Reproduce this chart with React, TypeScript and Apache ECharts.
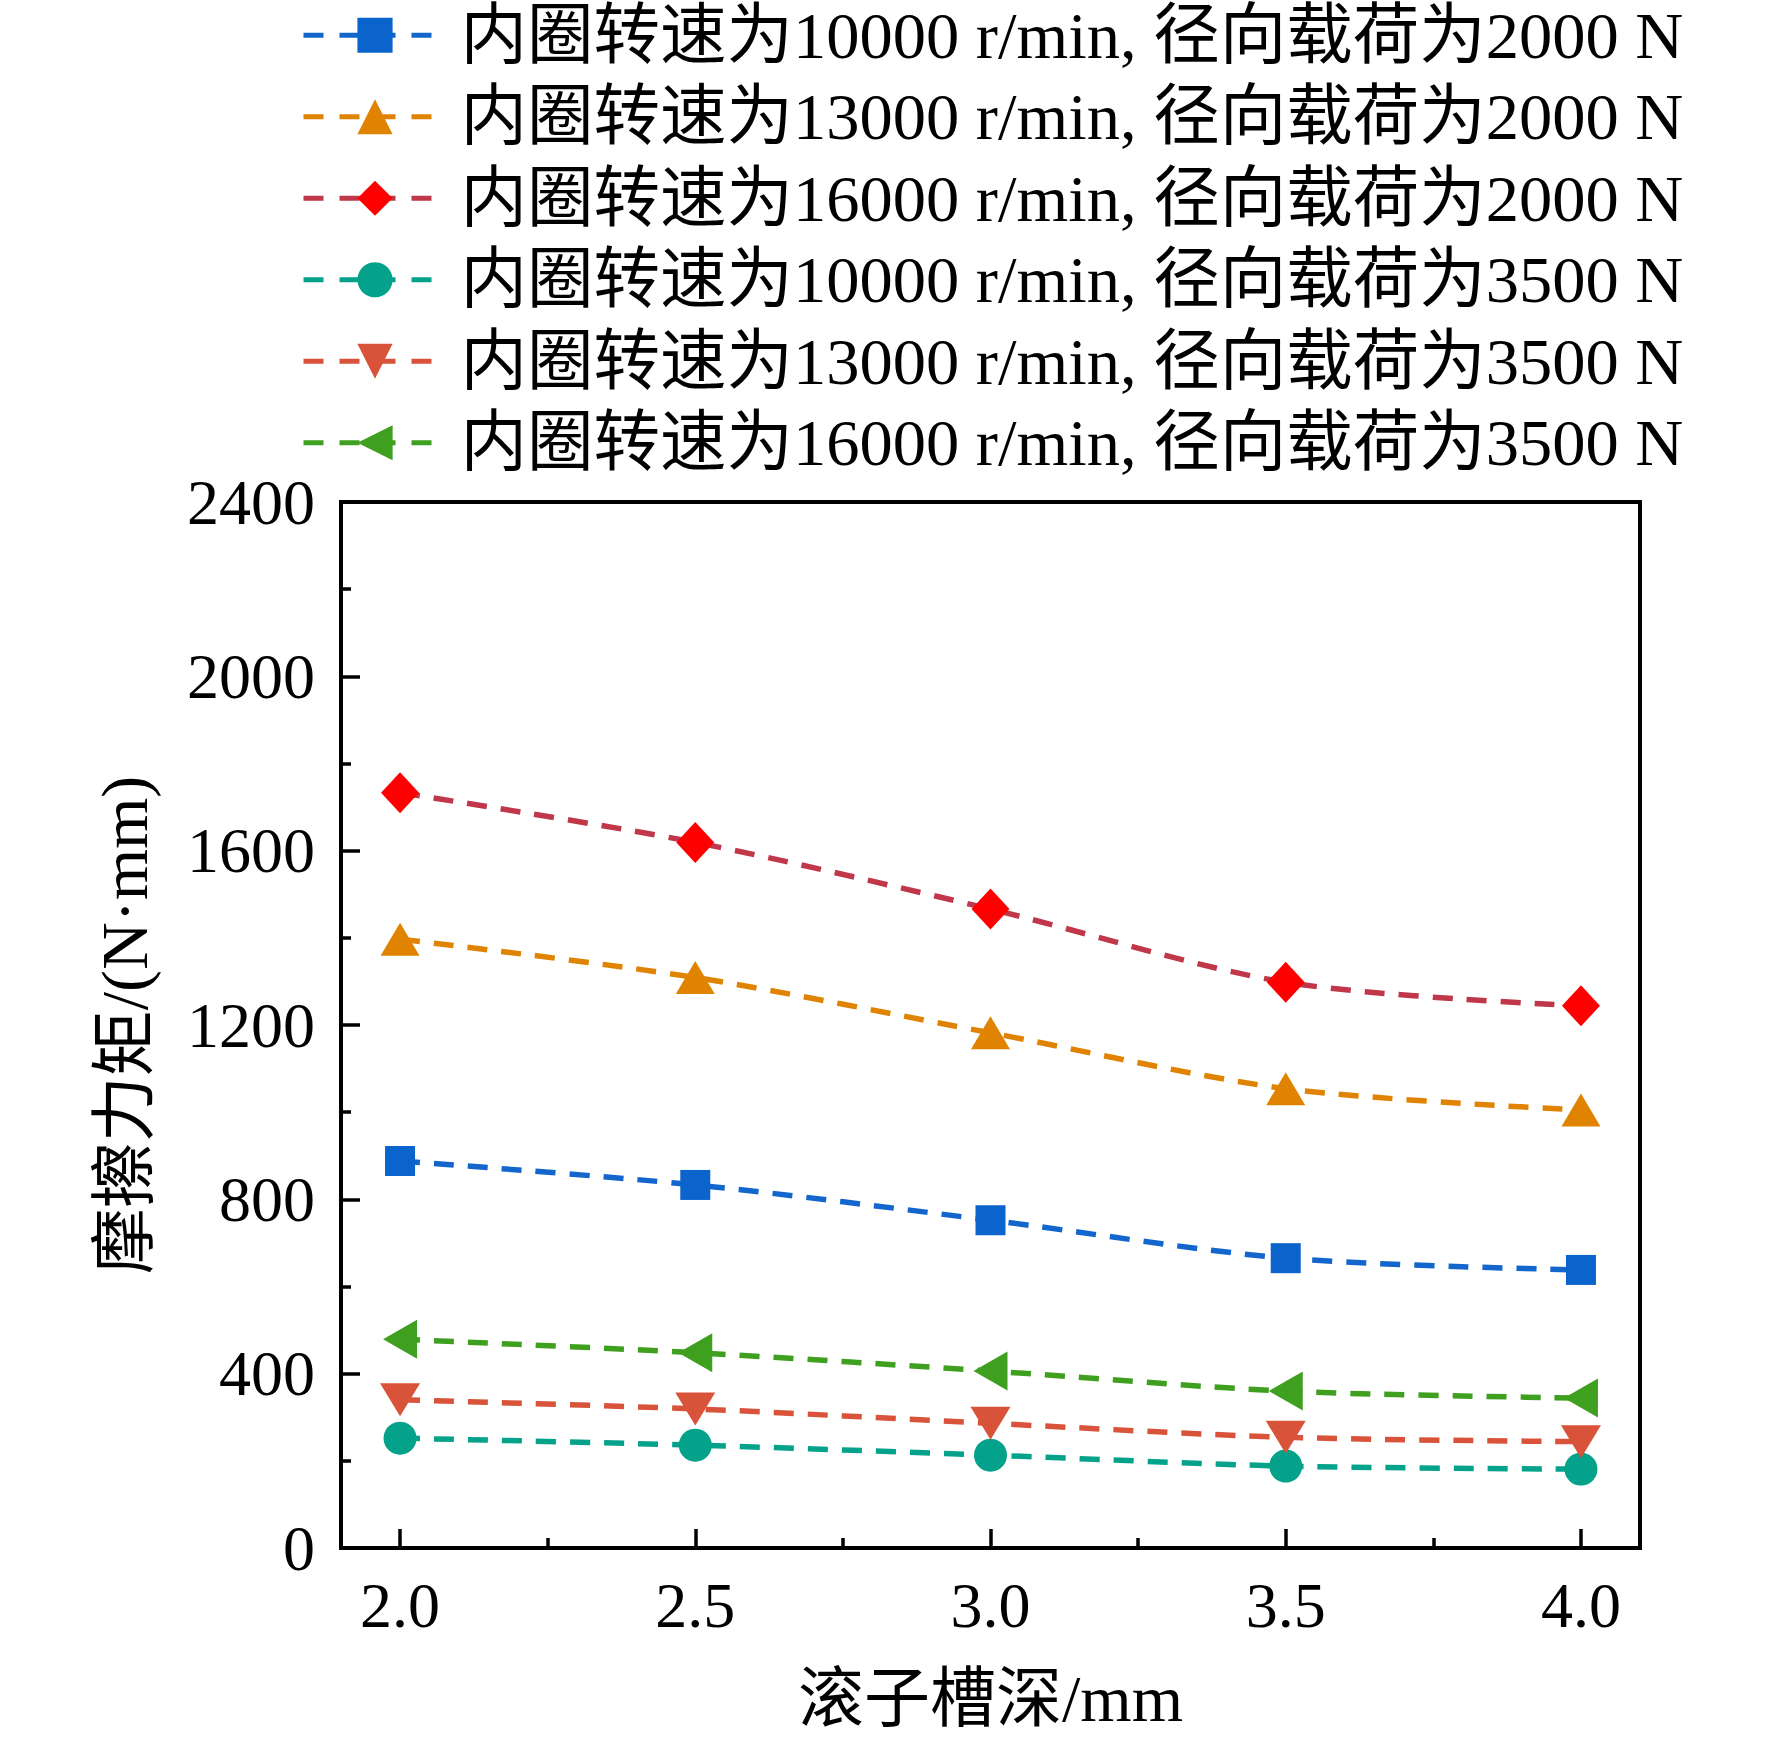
import React, { useEffect, useRef } from "react";
import * as echarts from "echarts";

const depths = [2.0, 2.5, 3.0, 3.5, 4.0];
const minorDepths = [2.25, 2.75, 3.25, 3.75];

const names = [
  "内圈转速为10000 r/min, 径向载荷为2000 N",
  "内圈转速为13000 r/min, 径向载荷为2000 N",
  "内圈转速为16000 r/min, 径向载荷为2000 N",
  "内圈转速为10000 r/min, 径向载荷为3500 N",
  "内圈转速为13000 r/min, 径向载荷为3500 N",
  "内圈转速为16000 r/min, 径向载荷为3500 N",
];

const s10k2000 = [888, 833, 752, 665, 638];
const s13k2000 = [1397, 1309, 1182, 1054, 1005];
const s16k2000 = [1733, 1619, 1466, 1298, 1244];
const s10k3500 = [252, 236, 213, 188, 181];
const s13k3500 = [340, 319, 286, 254, 244];
const s16k3500 = [479, 448, 406, 360, 344];

const FONT = "'Liberation Serif', 'Times New Roman', 'Noto Sans CJK SC', serif";

function pairs(vals: number[]) {
  return depths.map((d, i) => [d, vals[i]]);
}

export default function App() {
  const ref = useRef<HTMLDivElement>(null);
  useEffect(() => {
    if (!ref.current) return;
    const chart = echarts.init(ref.current, undefined, { renderer: "svg" });
    const dash = [20, 14];
    const mk = (
      name: string,
      vals: number[],
      symbol: string,
      size: number | number[],
      lineColor: string,
      markColor: string,
      rotate = 0
    ) => ({
      name,
      type: "line",
      data: pairs(vals),
      smooth: 0.3,
      symbol,
      symbolSize: size,
      symbolRotate: rotate,
      showSymbol: true,
      lineStyle: { color: lineColor, width: 5.5, type: dash },
      itemStyle: { color: markColor },
      emphasis: { disabled: true },
    });
    chart.setOption({
      animation: false,
      backgroundColor: "#ffffff",
      textStyle: { fontFamily: FONT },
      legend: {
        orient: "vertical",
        left: 301,
        top: 2,
        padding: 0,
        itemWidth: 143,
        itemHeight: 44,
        itemGap: 15,
        selectedMode: false,
        lineStyle: { width: 5, type: [20, 16] },
        textStyle: {
          fontFamily: FONT,
          fontSize: 66.5,
          color: "#000",
          lineHeight: 60,
          padding: [0, 0, 0, 9],
        },
        data: names,
      },
      grid: {
        left: 341,
        right: 132,
        top: 502,
        bottom: 194,
        show: true,
        borderColor: "#000",
        borderWidth: 4,
        containLabel: false,
      },
      xAxis: [
        {
          type: "value",
          min: 1.9,
          max: 4.1,
          name: "滚子槽深/mm",
          nameLocation: "middle",
          nameGap: 117,
          nameTextStyle: { fontFamily: FONT, fontSize: 66, color: "#000" },
          axisLine: { show: true, lineStyle: { color: "#000", width: 4 } },
          axisTick: {
            show: true,
            inside: true,
            length: 19,
            customValues: depths,
            lineStyle: { color: "#000", width: 3.5 },
          },
          axisLabel: {
            show: true,
            customValues: depths,
            formatter: (v: number) => v.toFixed(1),
            fontFamily: FONT,
            fontSize: 64,
            color: "#000",
            margin: 25,
          },
          splitLine: { show: false },
        },
        {
          type: "value",
          min: 1.9,
          max: 4.1,
          position: "bottom",
          axisLine: { show: false },
          axisTick: {
            show: true,
            inside: true,
            length: 10,
            customValues: minorDepths,
            lineStyle: { color: "#000", width: 3.5 },
          },
          axisLabel: { show: false },
          splitLine: { show: false },
        },
      ],
      yAxis: {
        type: "value",
        min: 0,
        max: 2400,
        interval: 400,
        name: "摩擦力矩/(N·mm)",
        nameLocation: "middle",
        nameGap: 184,
        nameTextStyle: { fontFamily: FONT, fontSize: 66, color: "#000" },
        axisLine: { show: true, lineStyle: { color: "#000", width: 4 } },
        axisTick: {
          show: true,
          inside: true,
          length: 19,
          lineStyle: { color: "#000", width: 3.5 },
        },
        minorTick: {
          show: true,
          splitNumber: 2,
          length: 10,
          lineStyle: { color: "#000", width: 3.5 },
        },
        axisLabel: {
          fontFamily: FONT,
          fontSize: 64,
          color: "#000",
          margin: 26,
          formatter: (v: number) => String(v),
        },
        splitLine: { show: false },
        minorSplitLine: { show: false },
      },
      series: [
        mk(names[0], s10k2000, "rect", 30, "#1366cc", "#0a64cc"),
        mk(names[1], s13k2000, "triangle", [39, 33], "#e08300", "#e08300"),
        mk(names[2], s16k2000, "diamond", [38, 41], "#c0374a", "#ff0000"),
        mk(names[3], s10k3500, "circle", 33, "#05a28b", "#05a28b"),
        mk(names[4], s13k3500, "triangle", [40, 33], "#d9523a", "#d9523a", 180),
        mk(names[5], s16k3500, "triangle", [39, 34], "#3fa020", "#3fa020", 90),
      ],
    });
    return () => chart.dispose();
  }, []);
  return (
    <div
      ref={ref}
      style={{ position: "fixed", left: 0, top: 0, width: 1772, height: 1742, background: "#fff" }}
    />
  );
}
